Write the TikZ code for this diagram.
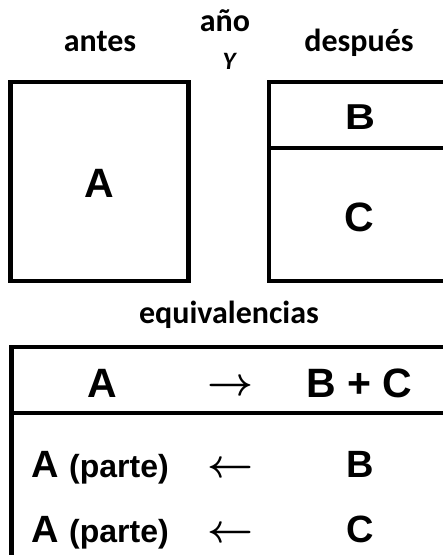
\RequirePackage{fix-cm}
\documentclass[tikz,border=0pt]{standalone}
\usepackage{fontspec}
\setmainfont{Carlito}
\newfontfamily\arialfont{Liberation Sans}
\newfontfamily\arialancho{Liberation Sans}[FakeStretch=1.15]

\begin{document}
\begin{tikzpicture}[x=1pt,y=-1pt]

  % One unit = one pixel of the 443 x 555 picture, y grows downwards
  \useasboundingbox (0,0) rectangle (443,555);

  \tikzset{
    head/.style={anchor=base, font=\fontsize{32}{32}\selectfont\bfseries},
    letra/.style={anchor=base, font=\arialfont\fontsize{41}{41}\selectfont\bfseries},
    fila/.style={anchor=base, font=\arialfont\fontsize{38}{38}\selectfont\bfseries},
    flecha/.style={anchor=base, font=\fontsize{40}{40}\selectfont\boldmath},
    marco/.style={line width=4.5pt}
  }

  % Headings over the two boxes
  \node[head] (antes) at (100,51) {antes};
  \node[head] (anio) at (225,31) {año};
  \node[anchor=base, font=\fontsize{25}{25}\selectfont\bfseries\itshape] (y) at (229,69) {Y};
  \node[head] (despues) at (359,51) {después};

  % Box before: one block A
  \draw[marco] (10.5,82) rectangle (188.5,281);
  \node[letra] (a) at (99.5,197) {A};

  % Box after: B on top of C, open to the right edge
  \draw[marco] (443,82) -- (269,82) -- (269,281) -- (443,281);
  \draw[marco] (269,148) -- (443,148);
  \node[anchor=base, font=\arialancho\fontsize{36}{36}\selectfont\bfseries] (b) at (360,129) {B};
  \node[letra] (c) at (359.5,231) {C};

  % Table of equivalences
  \node[head] (equiv) at (229,323) {equivalencias};
  \draw[marco] (443,347) -- (11.5,347) -- (11.5,555);
  \draw[marco] (11.5,413) -- (443,413);

  \node[letra] (a0) at (102.5,397) {A};
  \node[flecha] (f0) at (230,395) {$\rightarrow$};
  \node[letra] (bc) at (359.5,397) {B + C};

  % Rows: A (parte) <- B, A (parte) <- C
  \foreach \y/\z in {477/B, 542/C} {
    \node[fila, anchor=base west, inner sep=0pt] at (31,\y) {A {\fontsize{32}{32}\selectfont (parte)}};
    \node[flecha] at (230,\y) {$\leftarrow$};
    \node[fila] at (360,\y) {\z};
  }

\end{tikzpicture}
\end{document}
